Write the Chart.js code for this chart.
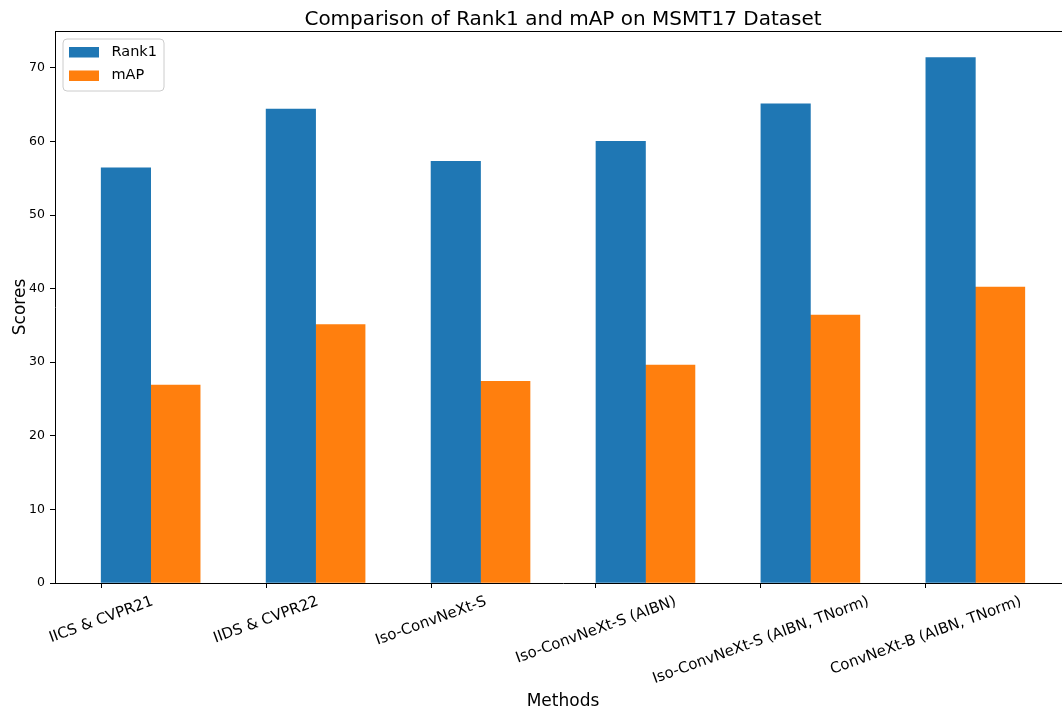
<!DOCTYPE html>
<html>
<head>
<meta charset="utf-8">
<script src="https://cdn.jsdelivr.net/npm/chart.js@4/dist/chart.umd.min.js"></script>
<style>
  html, body { margin: 0; padding: 0; background: #fff; }
  #wrap { width: 1062px; height: 712px; overflow: hidden; position: relative; }
  canvas { display: block; }
</style>
</head>
<body>
<div id="wrap"><canvas id="chart" width="1080" height="712"></canvas></div>
<script>
// Methods compared on MSMT17
const methods = [
  'IICS & CVPR21',
  'IIDS & CVPR22',
  'Iso-ConvNeXt-S',
  'Iso-ConvNeXt-S (AIBN)',
  'Iso-ConvNeXt-S (AIBN, TNorm)',
  'ConvNeXt-B (AIBN, TNorm)'
];
const rank1 = [56.4, 64.4, 57.3, 60.0, 65.1, 71.4];
const mAP   = [26.9, 35.1, 27.4, 29.6, 36.4, 40.2];
const yTicks = [0, 10, 20, 30, 40, 50, 60, 70];

const FONT = '"DejaVu Sans", "Liberation Sans", sans-serif';
const BAR_W = 0.3;            // bar width in category units
const X_MIN = -0.28, X_MAX = 5.88;
const Y_MAX = 75;

// each category: Rank1 bar starts at the tick, mAP bar follows it
const rank1Points = rank1.map((v, i) => ({ x: i + BAR_W / 2, y: v }));
const mapPoints   = mAP.map((v, i) => ({ x: i + BAR_W * 1.5, y: v }));

const decorations = {
  id: 'decorations',
  afterDraw(chart) {
    const ctx = chart.ctx;
    const area = chart.chartArea;
    const xs = chart.scales.x;
    ctx.save();

    // top spine
    ctx.strokeStyle = '#000';
    ctx.lineWidth = 1;
    ctx.beginPath();
    ctx.moveTo(area.left, Math.round(area.top) + 0.5);
    ctx.lineTo(area.right, Math.round(area.top) + 0.5);
    ctx.stroke();

    ctx.fillStyle = '#000';

    // title
    ctx.font = '20px ' + FONT;
    ctx.textAlign = 'center';
    ctx.textBaseline = 'alphabetic';
    const cx = (area.left + area.right) / 2;
    ctx.fillText('Comparison of Rank1 and mAP on MSMT17 Dataset', cx, 24.5);

    // rotated category labels, centred under each tick
    const ang = 20 * Math.PI / 180;
    ctx.font = '15px ' + FONT;
    const lineH = 15 * 1.164;
    methods.forEach((label, i) => {
      const x = xs.getPixelForValue(i);
      const w = ctx.measureText(label).width;
      const h = w * Math.sin(ang) + lineH * Math.cos(ang);
      const top = area.bottom + 10;
      ctx.save();
      ctx.translate(x, top + h / 2);
      ctx.rotate(-ang);
      ctx.textAlign = 'center';
      ctx.textBaseline = 'middle';
      ctx.fillText(label, 0, 0);
      ctx.restore();
    });

    // axis titles
    ctx.font = '17px ' + FONT;
    ctx.textAlign = 'center';
    ctx.textBaseline = 'alphabetic';
    ctx.fillText('Methods', cx, 706);
    ctx.save();
    ctx.translate(25, (area.top + area.bottom) / 2);
    ctx.rotate(-Math.PI / 2);
    ctx.fillText('Scores', 0, 0);
    ctx.restore();

    // legend box in the upper-left corner of the plot
    const lx = area.left + 8, ly = area.top + 8, lw = 101, lh = 52, r = 4;
    ctx.beginPath();
    ctx.moveTo(lx + r, ly);
    ctx.arcTo(lx + lw, ly, lx + lw, ly + lh, r);
    ctx.arcTo(lx + lw, ly + lh, lx, ly + lh, r);
    ctx.arcTo(lx, ly + lh, lx, ly, r);
    ctx.arcTo(lx, ly, lx + lw, ly, r);
    ctx.closePath();
    ctx.fillStyle = 'rgba(255,255,255,0.8)';
    ctx.fill();
    ctx.strokeStyle = '#cccccc';
    ctx.lineWidth = 1;
    ctx.stroke();

    ctx.font = '14.5px ' + FONT;
    ctx.textAlign = 'left';
    ctx.textBaseline = 'middle';
    chart.data.datasets.forEach((ds, k) => {
      const sy = ly + 8 + k * 23.5;
      ctx.fillStyle = ds.backgroundColor;
      ctx.fillRect(lx + 6, sy, 30, 10.5);
      ctx.fillStyle = '#000';
      ctx.fillText(ds.label, lx + 48.5, sy + 5);
    });

    ctx.restore();
  }
};

new Chart(document.getElementById('chart'), {
  type: 'bar',
  data: {
    datasets: [
      { label: 'Rank1', data: rank1Points, backgroundColor: '#1f77b4', grouped: false,
        categoryPercentage: 1, barPercentage: 1, borderWidth: 0 },
      { label: 'mAP', data: mapPoints, backgroundColor: '#ff7f0e', grouped: false,
        categoryPercentage: 1, barPercentage: 1, borderWidth: 0 }
    ]
  },
  options: {
    responsive: false,
    animation: false,
    devicePixelRatio: 1,
    layout: { padding: { top: 31, right: 9, left: 0, bottom: 0 } },
    plugins: {
      legend: { display: false },
      title: { display: false },
      tooltip: { enabled: false }
    },
    scales: {
      x: {
        type: 'linear',
        offset: false,
        min: X_MIN,
        max: X_MAX,
        afterBuildTicks(scale) { scale.ticks = methods.map((m, i) => ({ value: i })); },
        afterFit(scale) { scale.height = 129; },
        ticks: { display: false },
        grid: { offset: false, drawOnChartArea: false, drawTicks: true, tickLength: 5, color: '#000', lineWidth: 1 },
        border: { display: true, color: '#000', width: 1 }
      },
      y: {
        min: 0,
        max: Y_MAX,
        afterBuildTicks(scale) { scale.ticks = yTicks.map(v => ({ value: v })); },
        afterFit(scale) { scale.width = 55; },
        ticks: { font: { family: FONT, size: 12.5 }, color: '#000', padding: 5 },
        grid: { drawOnChartArea: false, drawTicks: true, tickLength: 5, color: '#000', lineWidth: 1 },
        border: { display: true, color: '#000', width: 1 }
      }
    }
  },
  plugins: [decorations]
});
</script>
</body>
</html>
